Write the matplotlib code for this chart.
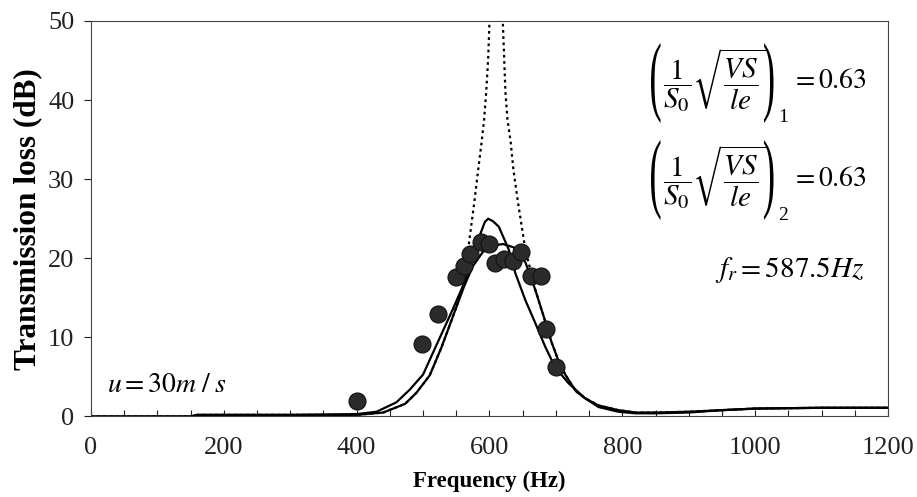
import matplotlib
matplotlib.use('Agg')
import matplotlib.pyplot as plt
from matplotlib.ticker import MultipleLocator
from matplotlib.textpath import TextPath
from matplotlib.patches import PathPatch
from matplotlib.transforms import Affine2D, IdentityTransform
from matplotlib.font_manager import FontProperties

# 字体设置
plt.rcParams['font.family'] = ['Liberation Serif', 'DejaVu Serif']
plt.rcParams['mathtext.fontset'] = 'stix'

# 实验点
exp_freq = [400, 498, 523, 549, 561, 571, 587, 600, 609, 622, 636, 648, 663, 677, 685, 700]
exp_tl = [2.0, 9.2, 13.0, 17.6, 19.0, 20.6, 22.0, 21.8, 19.4, 19.9, 19.7, 20.8, 17.8, 17.8, 11.1, 6.2]

# 理论曲线 1
a_freq = [0, 150, 160, 300, 400, 430, 460, 480, 500, 520, 545, 560, 575, 585, 593, 598,
          605, 614, 629, 639, 654, 669, 684, 699, 719, 744, 764, 794, 820, 850, 900,
          950, 1000, 1100, 1200]
a_tl = [0.0, 0.0, 0.2, 0.2, 0.3, 0.6, 1.8, 3.4, 5.3, 9.0, 13.6, 16.5, 20.0, 22.8, 24.6, 25.0,
        24.7, 24.0, 21.1, 18.1, 14.7, 11.8, 8.8, 6.2, 4.2, 2.3, 1.2, 0.6, 0.4, 0.4, 0.5,
        0.8, 1.0, 1.1, 1.1]

# 理论曲线 2
b_freq = [0, 150, 160, 300, 400, 440, 473, 490, 510, 528, 550, 562, 575, 590, 605, 620,
          636, 654, 669, 684, 693, 704, 714, 730, 744, 764, 794, 820, 850, 900, 950,
          1000, 1100, 1200]
b_tl = [0.0, 0.0, 0.2, 0.2, 0.2, 0.5, 1.6, 3.0, 5.2, 8.8, 13.8, 16.5, 19.0, 20.8, 21.6, 21.8,
        21.4, 19.5, 16.0, 12.0, 9.5, 7.0, 5.3, 3.2, 2.3, 1.4, 0.8, 0.5, 0.5, 0.6, 0.8,
        1.0, 1.1, 1.1]

# 无阻尼曲线 (虚线)
c_freq = [0, 150, 160, 300, 400, 440, 473, 490, 510, 528, 550, 562, 570, 577, 583, 588,
          592, 595, 598, 600, 610, 620, 624, 627, 632, 636, 643, 654, 669, 684, 693,
          704, 714, 730, 744, 764, 794, 820, 850, 900, 950, 1000, 1100, 1200]
c_tl = [0.0, 0.0, 0.2, 0.2, 0.2, 0.5, 1.6, 3.0, 5.2, 8.8, 13.8, 17.0, 22.5, 27.0, 31.2, 34.6,
        37.6, 41.0, 45.2, 50.0, 60.0, 50.0, 41.0, 37.6, 34.6, 31.2, 27.0, 21.1, 16.0, 12.0, 9.5,
        7.0, 5.3, 3.2, 2.3, 1.4, 0.8, 0.5, 0.5, 0.6, 0.8, 1.0, 1.1, 1.1]

W, H = 917, 497
fig = plt.figure(figsize=(W / 100, H / 100), dpi=100)
ax = fig.add_axes([0.0992, 0.162, 0.8692, 0.7958])

ax.plot(a_freq, a_tl, color='black', lw=1.6)
ax.plot(b_freq, b_tl, color='black', lw=1.6)
ax.plot(c_freq, c_tl, color='black', lw=1.6, linestyle=(0, (1.2, 1.6)))
ax.scatter(exp_freq, exp_tl, s=150, color='#2b2b2b', edgecolors='#111111', linewidths=0.8, zorder=3)

ax.set_xlim(0, 1200)
ax.set_ylim(0, 50)
ax.xaxis.set_major_locator(MultipleLocator(200))
ax.xaxis.set_minor_locator(MultipleLocator(50))
ax.yaxis.set_major_locator(MultipleLocator(10))
ax.tick_params(axis='x', which='both', direction='in', length=4, width=0.8, labelsize=19, pad=15, colors='#222222')
ax.tick_params(axis='y', which='major', direction='out', length=5, width=0.8, labelsize=19, pad=7, colors='#222222')
for s in ax.spines.values():
    s.set_linewidth(0.8)
    s.set_color('#444444')

ax.set_xlabel('Frequency (Hz)', fontsize=16.5, fontweight='bold', labelpad=8)
ax.set_ylabel('Transmission loss (dB)', fontsize=22.5, fontweight='bold', labelpad=4)


def px(x, y):
    # 像素坐标(左上为原点) -> figure 比例
    return x / W, 1 - y / H


def paren(ch, x0, y_top, y_bot):
    # 拉伸的大括号
    tp = TextPath((0, 0), ch, size=40, prop=FontProperties(family='Liberation Serif'))
    ext = tp.get_extents()
    sy = (y_bot - y_top) / ext.height
    sx = sy * 0.42
    tr = Affine2D().translate(-ext.x0, -ext.y0).scale(sx, sy).translate(x0, H - y_bot)
    fig.add_artist(PathPatch(tr.transform_path(tp), facecolor='black', lw=0,
                             transform=IdentityTransform()))


inner = r'$\dfrac{1}{S_0}\sqrt{\dfrac{VS}{le}}$'
for dy, sub in [(0, '1'), (97, '2')]:
    paren('(', 651, 43 + dy, 123 + dy)
    paren(')', 764, 43 + dy, 123 + dy)
    fig.text(*px(714, 80 + dy), inner, fontsize=21, ha='center', va='center')
    fig.text(*px(778, 118 + dy), sub, fontsize=14, ha='left', va='center')
    fig.text(*px(791, 82 + dy), r'$= 0.63$', fontsize=20, ha='left', va='center')

fig.text(*px(865, 270), r'$f_r = 587.5Hz$', fontsize=21, ha='right', va='center')
fig.text(*px(107, 386), r'$u = 30m\;/\;s$', fontsize=20, ha='left', va='center')

plt.savefig('out.png', dpi=100)
